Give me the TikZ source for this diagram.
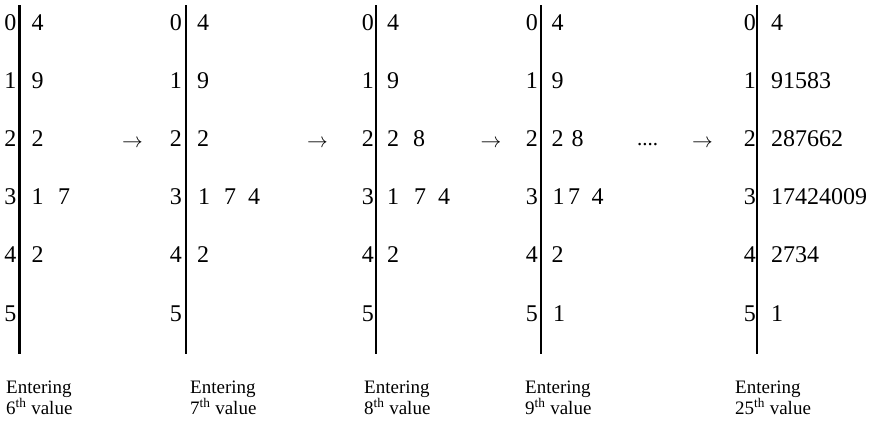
\documentclass[tikz,border=0pt]{standalone}
\usepackage{fontspec}
\setmainfont{Liberation Serif}
\begin{document}
\begin{tikzpicture}[x=1pt,y=-1pt,
  stemline/.style={line width=2.4pt},
  dig/.style={font=\fontsize{24}{28}\selectfont, inner sep=0pt, anchor=base},
  stemdig/.style={dig, anchor=base east},
  leafrow/.style={dig, anchor=base west},
  arr/.style={font=\fontsize{21}{24}\selectfont, inner sep=0pt, anchor=base},
  lab/.style={font=\fontsize{19}{19}\selectfont, inner sep=0pt, anchor=base west, align=left}]
\useasboundingbox (0,0) rectangle (880,424);
% vertical lines
\foreach \lx/\n in {19.5/a,186/b,376/c,541/d,757/e}{
  \coordinate (\n top) at (\lx,5);
  \coordinate (\n bot) at (\lx,354);
  \draw[stemline] (\n top) -- (\n bot);
}
% stems
\foreach \sx/\n in {16.5/a,182/b,374/c,538/d,756/e}{
  \foreach \r in {0,...,5}{
    \node[stemdig] (\n s\r) at (\sx,{30+58.2*\r}) {\r};
  }
}
% plot a leaves
\node[dig] (al0) at (37.5,30) {4};
\node[dig] (al1) at (37.5,88.2) {9};
\node[dig] (al2) at (37.5,146.4) {2};
\node[dig] (al3a) at (37.5,204.6) {1};
\node[dig] (al3b) at (64,204.6) {7};
\node[dig] (al4) at (37.5,262.8) {2};
% plot b leaves
\node[dig] (bl0) at (203,30) {4};
\node[dig] (bl1) at (203,88.2) {9};
\node[dig] (bl2) at (203,146.4) {2};
\node[dig] (bl3a) at (204,204.6) {1};
\node[dig] (bl3b) at (230,204.6) {7};
\node[dig] (bl3c) at (254,204.6) {4};
\node[dig] (bl4) at (203,262.8) {2};
% plot c leaves
\node[dig] (cl0) at (393,30) {4};
\node[dig] (cl1) at (393,88.2) {9};
\node[dig] (cl2a) at (393,146.4) {2};
\node[dig] (cl2b) at (419,146.4) {8};
\node[dig] (cl3a) at (393,204.6) {1};
\node[dig] (cl3b) at (420,204.6) {7};
\node[dig] (cl3c) at (444,204.6) {4};
\node[dig] (cl4) at (393,262.8) {2};
% plot d leaves
\node[dig] (dl0) at (557.5,30) {4};
\node[dig] (dl1) at (557.5,88.2) {9};
\node[dig] (dl2a) at (557.5,146.4) {2};
\node[dig] (dl2b) at (577.5,146.4) {8};
\node[dig] (dl3a) at (558.5,204.6) {1};
\node[dig] (dl3b) at (574,204.6) {7};
\node[dig] (dl3c) at (597.5,204.6) {4};
\node[dig] (dl4) at (557.5,262.8) {2};
\node[dig] (dl5) at (559,321) {1};
% plot e leaves
\node[leafrow] (el0) at (771,30) {4};
\node[leafrow] (el1) at (771,88.2) {91583};
\node[leafrow] (el2) at (771,146.4) {287662};
\node[leafrow] (el3) at (771,204.6) {17424009};
\node[leafrow] (el4) at (771,262.8) {2734};
\node[leafrow] (el5) at (771,321) {1};
% arrows and dots
\node[arr] (ar1) at (132.5,147) {$\rightarrow$};
\node[arr] (ar2) at (317.5,147) {$\rightarrow$};
\node[arr] (ar3) at (491,147) {$\rightarrow$};
\node[arr] (dots) at (647.5,145) {....};
\node[arr] (ar4) at (702.5,147) {$\rightarrow$};
% labels
\node[lab] (la) at (6,414) {Entering\\6\textsuperscript{th} value};
\node[lab] (lb) at (190,414) {Entering\\7\textsuperscript{th} value};
\node[lab] (lc) at (364,414) {Entering\\8\textsuperscript{th} value};
\node[lab] (ld) at (525,414) {Entering\\9\textsuperscript{th} value};
\node[lab] (le) at (735,414) {Entering\\25\textsuperscript{th} value};
\end{tikzpicture}
\end{document}
